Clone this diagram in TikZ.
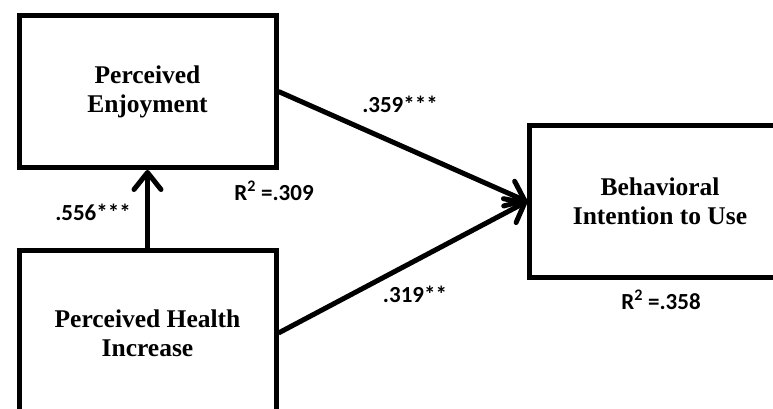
\documentclass[tikz,border=0pt]{standalone}
\usepackage{fontspec}
\setmainfont{Liberation Serif}
\newfontfamily\lblfont{Carlito}
\usetikzlibrary{arrows.meta}
\begin{document}
\begin{tikzpicture}[x=1pt,y=-1pt,
  box/.style={draw, line width=5pt, align=center, inner sep=0pt,
    font=\fontsize{25.5}{29}\selectfont\bfseries},
  lbl/.style={font=\lblfont\fontsize{23}{27}\selectfont\bfseries, inner sep=0pt},
  arr/.style={line width=5pt, -{Straight Barb[length=17pt,width=27pt,round]}}]
\useasboundingbox (0,0) rectangle (773,409);
\clip (0,0) rectangle (773,409);
\node[box, minimum width=257pt, minimum height=152pt] (pe) at (147.5,91.5) {Perceived\\Enjoyment};
\node[box, minimum width=257pt, minimum height=165pt] (phi) at (147.5,333) {Perceived Health\\Increase};
\node[box, minimum width=261pt, minimum height=152pt] (bi) at (660,201.5) {Behavioral\\Intention to Use};
\draw[arr] (phi.north) -- (pe.south);
\draw[arr] (pe.east) -- (bi.west);
\draw[arr] (phi.east) -- (bi.west);
\node[lbl] (l1) at (93,212) {.556***};
\node[lbl] (l2) at (274,191) {R\textsuperscript{2} =.309};
\node[lbl] (l3) at (400,104) {.359***};
\node[lbl] (l4) at (415,294) {.319**};
\node[lbl] (l5) at (661,300) {R\textsuperscript{2} =.358};
\end{tikzpicture}
\end{document}
